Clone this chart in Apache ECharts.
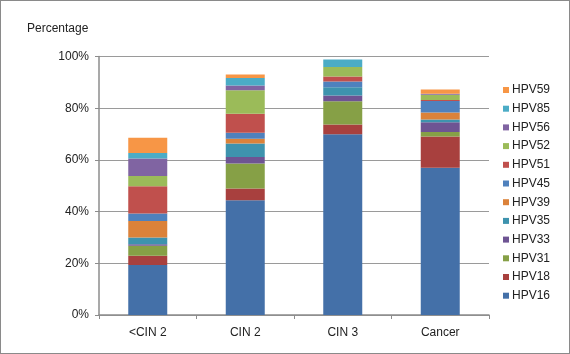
<!DOCTYPE html>
<html lang="en">
  <head>
    <meta charset="UTF-8" />
    <title>HPV types by grade</title>
    <script src="https://cdn.jsdelivr.net/npm/echarts@6/dist/echarts.min.js"></script>
    <style>
      html, body { margin: 0; padding: 0; background: #fff; }
      #main {
        width: 568px;
        height: 352px;
        border: 1px solid #8a8a8a;
      }
    </style>
  </head>
  <body>
    <div id="main"></div>
    <script>
      // categories along the x axis
      var grades = ["<CIN 2", "CIN 2", "CIN 3", "Cancer"];
      // HPV types, bottom of the stack first
      var types = ["HPV16", "HPV18", "HPV31", "HPV33", "HPV35", "HPV39", "HPV45", "HPV51", "HPV52", "HPV56", "HPV85", "HPV59"];
      // percentage per grade, one array per type (same order as grades)
      var hpv16 = [19.3, 44.4, 69.9, 57.0];
      var hpv18 = [3.6, 4.5, 3.8, 12.1];
      var hpv31 = [3.9, 9.7, 9.0, 1.7];
      var hpv33 = [0.6, 2.5, 2.2, 3.8];
      var hpv35 = [2.6, 5.2, 3.2, 1.0];
      var hpv39 = [6.4, 1.9, 0.0, 2.7];
      var hpv45 = [2.9, 2.3, 2.2, 4.5];
      var hpv51 = [10.5, 7.4, 2.0, 0.4];
      var hpv52 = [4.0, 9.0, 3.6, 2.0];
      var hpv56 = [6.7, 1.9, 0.0, 0.4];
      var hpv85 = [2.2, 2.9, 2.9, 0.0];
      var hpv59 = [5.9, 1.3, 0.0, 1.6];
      var yTicks = [0, 20, 40, 60, 80, 100];

      var values = [hpv16, hpv18, hpv31, hpv33, hpv35, hpv39, hpv45, hpv51, hpv52, hpv56, hpv85, hpv59];
      var colors = ["#4470A8", "#A8403E", "#86A046", "#6E5493", "#3E93AE", "#DB823A",
                    "#4F81BD", "#C0504D", "#9BBB59", "#8064A2", "#4BACC6", "#F79646"];

      var series = types.map(function (name, i) {
        return {
          name: name,
          type: "bar",
          stack: "all",
          barWidth: 39,
          data: values[i],
          itemStyle: { color: colors[i] },
        };
      });

      var myChart = echarts.init(document.getElementById("main"));
      var option = {
        animation: false,
        textStyle: { fontFamily: "Liberation Sans, Arial, sans-serif" },
        title: {
          text: "Percentage",
          left: 21,
          top: 17,
          textStyle: { fontSize: 12, fontWeight: "normal", color: "#222" },
        },
        grid: { left: 98, right: 80, top: 55.5, bottom: 38 },
        legend: {
          orient: "vertical",
          right: 14,
          top: 78,
          itemWidth: 6,
          itemHeight: 6,
          itemGap: 6.7,
          icon: "rect",
          data: types.slice().reverse(),
          textStyle: { fontSize: 12, color: "#222", padding: [0, 0, 0, -2] },
        },
        xAxis: {
          type: "category",
          data: grades,
          axisLine: { lineStyle: { color: "#8c8c8c", width: 1.5 } },
          axisTick: { show: true, length: 4, lineStyle: { color: "#8c8c8c" } },
          axisLabel: { fontSize: 12, color: "#222", margin: 12 },
        },
        yAxis: {
          type: "value",
          min: yTicks[0],
          max: yTicks[yTicks.length - 1],
          interval: 20,
          axisLine: { show: true, lineStyle: { color: "#8c8c8c", width: 1.5 } },
          axisTick: { show: true, length: 4, lineStyle: { color: "#8c8c8c" } },
          axisLabel: { fontSize: 12, color: "#222", margin: 10, formatter: "{value}%" },
          splitLine: { lineStyle: { color: "#9a9a9a" } },
        },
        series: series,
      };
      myChart.setOption(option);
    </script>
  </body>
</html>
